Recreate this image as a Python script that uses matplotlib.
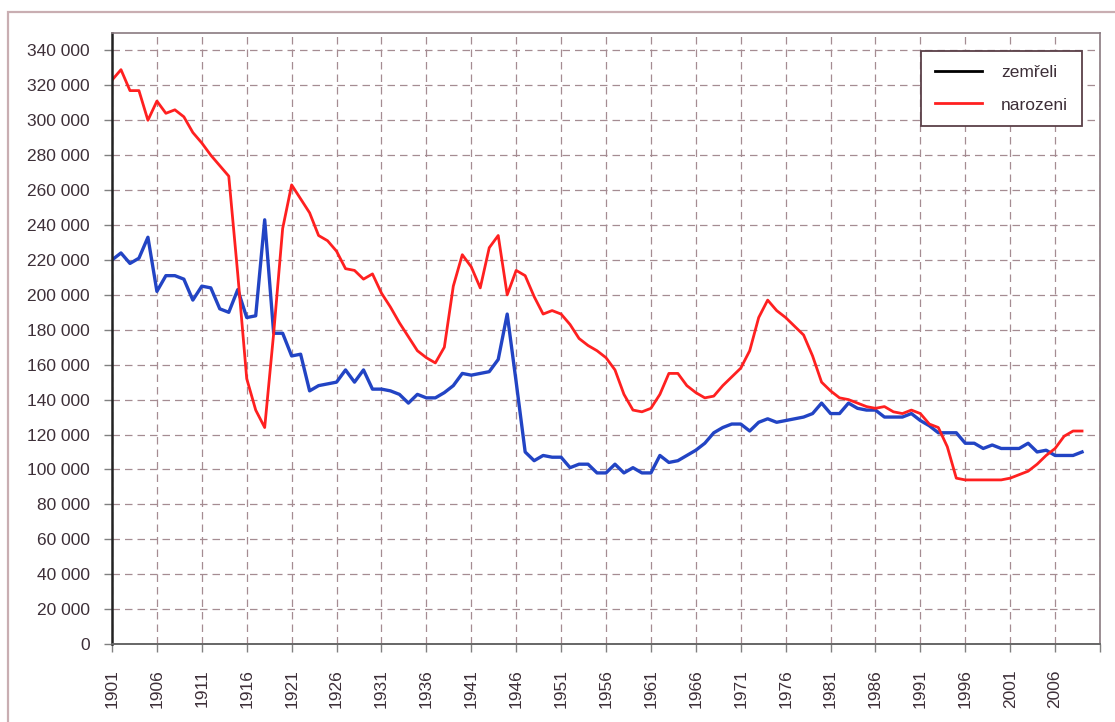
import numpy as np
import matplotlib
matplotlib.use('Agg')
import matplotlib.pyplot as plt
from matplotlib.ticker import FuncFormatter, MultipleLocator
from matplotlib.lines import Line2D
from matplotlib.patches import Rectangle

# years 1901 - 2009
years = np.arange(1901, 2010)

# narozeni (births)
births = [
    323000, 329000, 317000, 317000, 300000, 311000, 304000, 306000, 302000, 293000,  # 1901-1910
    287000, 280000, 274000, 268000, 212000, 152000, 134000, 124000, 178000, 238000,  # 1911-1920
    263000, 255000, 247000, 234000, 231000, 225000, 215000, 214000, 209000, 212000,  # 1921-1930
    201000, 193000, 184000, 176000, 168000, 164000, 161000, 170000, 205000, 223000,  # 1931-1940
    216000, 204000, 227000, 234000, 200000, 214000, 211000, 199000, 189000, 191000,  # 1941-1950
    189000, 183000, 175000, 171000, 168000, 164000, 157000, 143000, 134000, 133000,  # 1951-1960
    135000, 143000, 155000, 155000, 148000, 144000, 141000, 142000, 148000, 153000,  # 1961-1970
    158000, 168000, 187000, 197000, 191000, 187000, 182000, 177000, 165000, 150000,  # 1971-1980
    145000, 141000, 140000, 138000, 136000, 135000, 136000, 133000, 132000, 134000,  # 1981-1990
    132000, 126000, 124000, 113000, 95000, 94000, 94000, 94000, 94000, 94000,        # 1991-2000
    95000, 97000, 99000, 103000, 108000, 112000, 119000, 122000, 122000,             # 2001-2009
]

# zemreli (deaths) - drawn in blue in the original
deaths = [
    220000, 224000, 218000, 221000, 233000, 202000, 211000, 211000, 209000, 197000,  # 1901-1910
    205000, 204000, 192000, 190000, 203000, 187000, 188000, 243000, 178000, 178000,  # 1911-1920
    165000, 166000, 145000, 148000, 149000, 150000, 157000, 150000, 157000, 146000,  # 1921-1930
    146000, 145000, 143000, 138000, 143000, 141000, 141000, 144000, 148000, 155000,  # 1931-1940
    154000, 155000, 156000, 163000, 189000, 150000, 110000, 105000, 108000, 107000,  # 1941-1950
    107000, 101000, 103000, 103000, 98000, 98000, 103000, 98000, 101000, 98000,      # 1951-1960
    98000, 108000, 104000, 105000, 108000, 111000, 115000, 121000, 124000, 126000,   # 1961-1970
    126000, 122000, 127000, 129000, 127000, 128000, 129000, 130000, 132000, 138000,  # 1971-1980
    132000, 132000, 138000, 135000, 134000, 134000, 130000, 130000, 130000, 132000,  # 1981-1990
    128000, 125000, 121000, 121000, 121000, 115000, 115000, 112000, 114000, 112000,  # 1991-2000
    112000, 112000, 115000, 110000, 111000, 108000, 108000, 108000, 110000,          # 2001-2009
]

tick_years = np.arange(1901, 2007, 5)

W, H = 1115, 722
plt.rcParams['font.family'] = ['Liberation Sans', 'DejaVu Sans']
text_col = '#3d2f38'
grid_col = '#a58c92'

fig = plt.figure(figsize=(W / 100, H / 100), dpi=100)
fig.patch.set_facecolor('white')

# outer chart frame
fig.patches.append(Rectangle((8 / W, -0.05), (W + 20) / W, 1 - 12 / H + 0.05,
                             transform=fig.transFigure, fill=False,
                             edgecolor='#c9aeb2', linewidth=1.6))

ax = fig.add_axes([112 / W, 1 - 644 / H, (1100 - 112) / W, (644 - 33) / H])

ax.plot(years, deaths, color='#2244c4', linewidth=2.4, solid_joinstyle='round')
ax.plot(years, births, color='#ff2020', linewidth=2.0, solid_joinstyle='round')

ax.set_xlim(1901, 2011)
ax.set_ylim(0, 350000)

ax.yaxis.set_major_locator(MultipleLocator(20000))
ax.yaxis.set_major_formatter(FuncFormatter(lambda v, p: f"{int(v):,}".replace(',', ' ')))
ax.set_xticks(tick_years)
ax.set_xticks([2011], minor=True)
ax.set_xticklabels([str(y) for y in tick_years], rotation=90)

ax.grid(True, which='both', linestyle=(0, (6, 4)), color=grid_col, linewidth=0.9)
ax.set_axisbelow(True)

ax.tick_params(axis='both', which='both', direction='out', length=6, width=1,
               color='#808080', labelcolor=text_col, labelsize=12.5)
ax.tick_params(axis='x', pad=12)
ax.tick_params(axis='y', pad=10)

for side in ['top', 'right']:
    ax.spines[side].set_color('#8a7a80')
    ax.spines[side].set_linewidth(1.2)
ax.spines['bottom'].set_color('#666666')
ax.spines['bottom'].set_linewidth(1.4)
ax.spines['left'].set_color('#222222')
ax.spines['left'].set_linewidth(1.8)

handles = [Line2D([], [], color='black', linewidth=2.0),
           Line2D([], [], color='#ff2020', linewidth=2.0)]
leg = ax.legend(handles, ['zemřeli', 'narozeni'], loc='upper right',
                bbox_to_anchor=(1082 / W, 1 - 51 / H), bbox_transform=fig.transFigure,
                borderaxespad=0, fancybox=False, framealpha=1, edgecolor='#5a4048',
                fontsize=12.5, handlelength=2.7, handletextpad=1.1, labelspacing=1.0,
                borderpad=0.8)
leg.get_frame().set_linewidth(1.3)
for t in leg.get_texts():
    t.set_color(text_col)

fig.savefig('out.png', dpi=100)
